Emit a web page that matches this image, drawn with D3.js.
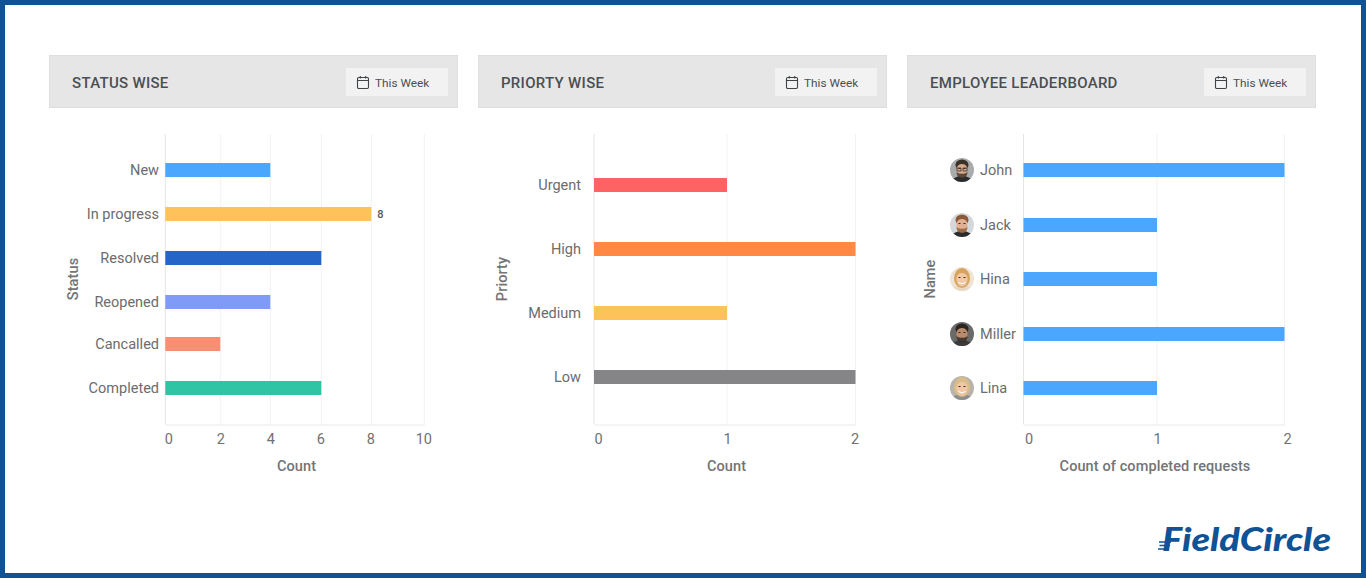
<!DOCTYPE html>
<html><head><meta charset="utf-8">
<script src="https://d3js.org/d3.v7.min.js"></script>
<style>
html,body{margin:0;padding:0;background:#fff;overflow:hidden}
svg{display:block}
text{font-family:Roboto,"Noto Sans",sans-serif}
</style></head><body>
<svg id="c" width="1366" height="578"></svg>
<script>
const panelTitles = ["STATUS WISE","PRIORTY WISE","EMPLOYEE LEADERBOARD"];
const rangeLabel = "This Week";
const statusCats = ["New","In progress","Resolved","Reopened","Cancalled","Completed"];
const statusVals = [4,8,6,4,2,6];
const statusCols = ["#4ba6fd","#fec25a","#2565c7","#7f9bf7","#f88e72","#2fc4a4"];
const statusTicks = [0,2,4,6,8,10];
const priorityCats = ["Urgent","High","Medium","Low"];
const priorityVals = [1,2,1,2];
const priorityCols = ["#fe6363","#fe8844","#fec25a","#858587"];
const priorityTicks = [0,1,2];
const employeeCats = ["John","Jack","Hina","Miller","Lina"];
const employeeVals = [2,1,1,2,1];
const employeeCols = ["#4ba6fd","#4ba6fd","#4ba6fd","#4ba6fd","#4ba6fd"];
const employeeTicks = [0,1,2];
const avatarBg   = ["#a9abad","#d5d8da","#efe3d3","#6b6a68","#b9b3ac"];
const avatarHair = ["#3a3129","#8a5a38","#d6a45f","#2c2622","#d9bd86"];
const avatarSkin = ["#d6a98a","#e2b090","#f2c9a6","#b98a6c","#f0c8a8"];
const avatarBody = ["#2c2c2e","#2b2b2d","#e8d8c4","#3a3a3a","#8d8d8d"];

const svg = d3.select("#c");
svg.append("rect").attr("x",2.5).attr("y",2.5).attr("width",1361).attr("height",573)
  .attr("fill","#fff").attr("stroke","#0f5296").attr("stroke-width",5);

const charts = [
 {px:49, cats:statusCats, vals:statusVals, cols:statusCols, ticks:statusTicks,
  xr:[165.3,220.3,270.3,321.3,371.3,424.3], yr:[170,214,258,302,344,388], labelX:159, anchor:"end",
  xTitle:"Count", xTitleX:296.5, yTitle:"Status", yTitleX:73, tickDx:[3,0,0,-1,-1,-1], valueLabelFor:8},
 {px:478, cats:priorityCats, vals:priorityVals, cols:priorityCols, ticks:priorityTicks,
  xr:[594,727,855.5], yr:[185,249,313,377], labelX:581, anchor:"end",
  xTitle:"Count", xTitleX:726.5, yTitle:"Priorty", yTitleX:502, tickDx:[4,0,-1]},
 {px:907, cats:employeeCats, vals:employeeVals, cols:employeeCols, ticks:employeeTicks,
  xr:[1023.5,1157,1284.5], yr:[170,225,279,334,388], labelX:980, anchor:"start",
  xTitle:"Count of completed requests", xTitleX:1155, yTitle:"Name", yTitleX:930, tickDx:[5,0,2.5], avatars:true}
];
const plotTop = 134, plotBottom = 424.5;

charts.forEach((c,ci)=>{
  const g = svg.append("g");
  // header
  g.append("rect").attr("x",c.px+.5).attr("y",55.5).attr("width",408).attr("height",52)
    .attr("fill","#e6e6e6").attr("stroke","#dfdfdf");
  g.append("text").attr("x",c.px+23).attr("y",88).attr("font-size",15).attr("font-weight",500)
    .attr("letter-spacing",".3").attr("fill","#4a4f53").text(panelTitles[ci]);
  g.append("rect").attr("x",c.px+297).attr("y",68).attr("width",102).attr("height",28).attr("fill","#f2f2f2");
  const ic = g.append("g").attr("transform",`translate(${c.px+308},76)`).attr("fill","none").attr("stroke","#3f4448").attr("stroke-width",1.1);
  ic.append("rect").attr("x",.5).attr("y",1.5).attr("width",11).attr("height",11).attr("rx",1.2);
  ic.append("path").attr("d","M.5 4.5H11.5M3.3 0V2.5M8.7 0V2.5");
  g.append("text").attr("x",c.px+326).attr("y",87).attr("font-size",11.8).attr("fill","#4b4f52").text(rangeLabel);

  // scales
  const x = d3.scaleLinear().domain(c.ticks).range(c.xr);
  const y = d3.scaleOrdinal().domain(c.cats).range(c.yr);
  // gridlines
  g.append("g").selectAll("line").data(c.ticks.slice(1)).join("line")
    .attr("x1",d=>x(d)).attr("x2",d=>x(d)).attr("y1",plotTop).attr("y2",plotBottom)
    .attr("stroke","#f1f2f3");
  // x axis
  const ax = g.append("g").attr("transform",`translate(0,${plotBottom})`)
    .call(d3.axisBottom(x).tickValues(c.ticks).tickFormat(d3.format("d")).tickSize(0).tickPadding(9));
  ax.select(".domain").attr("stroke","#e9eaeb");
  ax.selectAll("text").attr("font-size",14.5).attr("fill","#6f7173")
    .attr("font-family","Roboto,sans-serif").attr("dx",(d,i)=>c.tickDx[i]);
  // y axis line
  g.append("line").attr("x1",c.xr[0]).attr("x2",c.xr[0]).attr("y1",plotTop).attr("y2",plotBottom).attr("stroke","#e4e5e6");
  // category labels
  g.append("g").selectAll("text").data(c.cats).join("text")
    .attr("x",c.labelX).attr("y",d=>y(d)+5).attr("text-anchor",c.anchor)
    .attr("font-size",14.5).attr("fill","#6a6c6e").text(d=>d);
  // bars
  g.append("g").selectAll("rect").data(c.cats).join("rect")
    .attr("x",x(0)).attr("y",d=>y(d)-7).attr("height",14)
    .attr("width",(d,i)=>x(c.vals[i])-x(0)).attr("fill",(d,i)=>c.cols[i]);
  // value label
  if(c.valueLabelFor!==undefined){
    const i = c.vals.indexOf(c.valueLabelFor);
    g.append("text").attr("x",x(c.vals[i])+9).attr("y",y(c.cats[i])+4)
      .attr("text-anchor","middle").attr("font-size",11).attr("font-weight",500).attr("fill","#55585a").text(c.vals[i]);
  }
  // axis titles
  g.append("text").attr("x",c.xTitleX).attr("y",470.5).attr("text-anchor","middle")
    .attr("font-size",14.5).attr("font-weight",500).attr("letter-spacing",".1").attr("fill","#727476").text(c.xTitle);
  g.append("text").attr("transform",`translate(${c.yTitleX+5},279) rotate(-90)`).attr("text-anchor","middle")
    .attr("font-size",14.5).attr("font-weight",500).attr("letter-spacing",".1").attr("fill","#727476").text(c.yTitle);
  // avatars
  if(c.avatars){
    c.cats.forEach((n,i)=>{
      const a = g.append("g").attr("transform",`translate(962,${y(n)})`);
      const id = "av"+i;
      a.append("clipPath").attr("id",id).append("circle").attr("r",12);
      const p = a.append("g").attr("clip-path",`url(#${id})`);
      p.append("rect").attr("x",-12).attr("y",-12).attr("width",24).attr("height",24).attr("fill",avatarBg[i]);
      p.append("ellipse").attr("cx",0).attr("cy",13).attr("rx",11).attr("ry",7).attr("fill",avatarBody[i]);
      const long = i===2||i===4;
      p.append("ellipse").attr("cx",0).attr("cy",long?-1:-5).attr("rx",long?8:6.5).attr("ry",long?10:5.5).attr("fill",avatarHair[i]);
      p.append("ellipse").attr("cx",0).attr("cy",0).attr("rx",5.6).attr("ry",7.5).attr("fill",avatarSkin[i]);
      if(!long) p.append("path").attr("d","M-5.6 2Q-3 4.5 0 3.5Q3 4.5 5.6 2Q5 8 0 8Q-5 8-5.6 2Z").attr("fill",avatarHair[i]).attr("opacity",.8);
      p.append("path").attr("d","M-5.6-2Q-4-6 0-6Q4-6 5.6-2Q6-8 0-8.5Q-6-8-5.6-2Z").attr("fill",avatarHair[i]);
      if(i===0) p.append("path").attr("d","M-5-2H-1V1H-5ZM1-2H5V1H1Z").attr("fill","none").attr("stroke","#222").attr("stroke-width",.7);
      if(long) p.append("path").attr("d","M-3.5 3.5Q0 6 3.5 3.5").attr("fill","none").attr("stroke","#fff").attr("stroke-width",1);
      p.append("path").attr("d","M-3.5-1.5h2M1.5-1.5h2").attr("stroke","#33291f").attr("stroke-width",1);
    });
  }
});

// logo
const logo = svg.append("g");
logo.append("text").attr("x",1162).attr("y",551).attr("font-size",33).attr("font-weight",900)
  .attr("font-style","italic").attr("textLength",169).attr("lengthAdjust","spacingAndGlyphs")
  .attr("style","font-family:Lato,'Open Sans',sans-serif").attr("fill","#0f5296").text("FieldCircle");
logo.append("path").attr("d","M1159 542H1171M1159.5 545.5H1170M1158 549H1169").attr("stroke","#0f5296").attr("stroke-width",1.6);
</script></body></html>
